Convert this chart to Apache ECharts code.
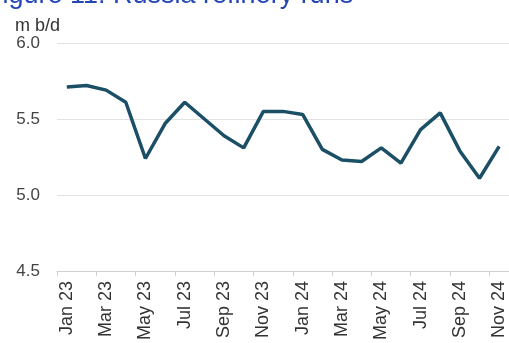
<!DOCTYPE html>
<html>
<head>
<meta charset="utf-8">
<script src="https://cdn.jsdelivr.net/npm/echarts@6/dist/echarts.min.js"></script>
<style>
  html, body { margin: 0; padding: 0; background: #fff; }
  #chart { width: 509px; height: 343px; }
</style>
</head>
<body>
<div id="chart"></div>
<script>
// Monthly Russian refinery runs, million barrels per day
const months = [
  'Jan 23','Feb 23','Mar 23','Apr 23','May 23','Jun 23','Jul 23','Aug 23','Sep 23','Oct 23','Nov 23','Dec 23',
  'Jan 24','Feb 24','Mar 24','Apr 24','May 24','Jun 24','Jul 24','Aug 24','Sep 24','Oct 24','Nov 24'
];
const runs = [
  5.71, 5.72, 5.69, 5.61, 5.24, 5.47, 5.61, 5.50, 5.39, 5.31, 5.55, 5.55,
  5.53, 5.30, 5.23, 5.22, 5.31, 5.21, 5.43, 5.54, 5.29, 5.11, 5.32
];
const yTicks = [4.5, 5.0, 5.5, 6.0];

const font = 'Liberation Sans, Arial, sans-serif';
const chart = echarts.init(document.getElementById('chart'), null, { renderer: 'canvas' });

chart.setOption({
  animation: false,
  backgroundColor: '#ffffff',
  graphic: [{
    type: 'text',
    x: -14,
    y: -4,
    style: {
      text: 'Figure 11: Russia refinery runs',
      fill: '#2447b3',
      font: '27px ' + font,
      verticalAlign: 'middle'
    }
  }],
  grid: { left: 57, right: 0, top: 43, bottom: 70 },
  xAxis: {
    type: 'category',
    data: months,
    boundaryGap: true,
    axisLine: { lineStyle: { color: '#d0d0d0', width: 1 } },
    axisTick: { show: true, length: 5, interval: 1, lineStyle: { color: '#d0d0d0' } },
    axisLabel: {
      interval: 1,
      rotate: 90,
      color: '#333',
      fontFamily: font,
      fontSize: 18,
      margin: 10
    }
  },
  yAxis: {
    type: 'value',
    min: yTicks[0],
    max: yTicks[yTicks.length - 1],
    interval: 0.5,
    name: 'm b/d',
    nameLocation: 'end',
    nameGap: 6,
    nameTextStyle: { color: '#333', fontFamily: font, fontSize: 18, align: 'left', padding: [0, 0, 0, -42] },
    axisLine: { show: false },
    axisTick: { show: false },
    axisLabel: {
      color: '#444',
      fontFamily: font,
      fontSize: 17,
      margin: 17,
      formatter: v => v.toFixed(1)
    },
    splitLine: { lineStyle: { color: '#e2e2e2', width: 1 } }
  },
  series: [{
    type: 'line',
    data: runs,
    symbol: 'none',
    lineStyle: { color: '#1b4f66', width: 3.5 },
    z: 3
  }]
});
</script>
</body>
</html>
